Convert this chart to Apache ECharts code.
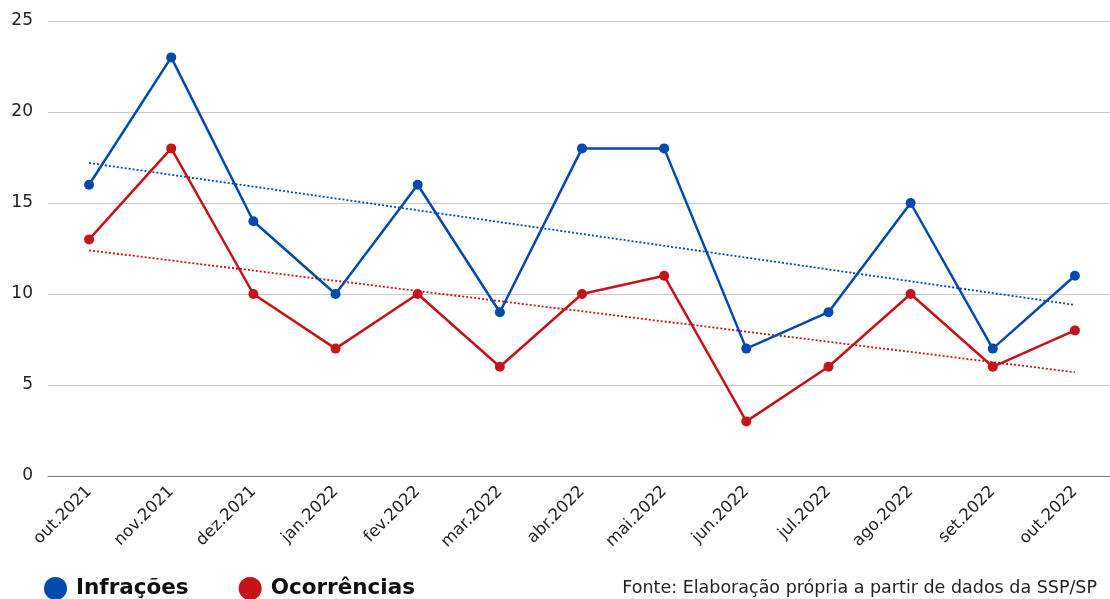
<!DOCTYPE html>
<html>
<head>
<meta charset="utf-8">
<script src="https://cdn.jsdelivr.net/npm/echarts@6/dist/echarts.min.js"></script>
<style>
  html, body { margin: 0; padding: 0; background: #fff; overflow: hidden; }
  #chart { width: 1116px; height: 599px; }
</style>
</head>
<body>
<div id="chart"></div>
<script>
// Monthly counts, Oct 2021 – Oct 2022
const months = ['out.2021', 'nov.2021', 'dez.2021', 'jan.2022', 'fev.2022', 'mar.2022', 'abr.2022',
                'mai.2022', 'jun.2022', 'jul.2022', 'ago.2022', 'set.2022', 'out.2022'];
const infracoes = [16, 23, 14, 10, 16, 9, 18, 18, 7, 9, 15, 7, 11];
const ocorrencias = [13, 18, 10, 7, 10, 6, 10, 11, 3, 6, 10, 6, 8];
// Linear trend lines: values at the first and last month
const trendInfracoes = [17.2, null, null, null, null, null, null, null, null, null, null, null, 9.4];
const trendOcorrencias = [12.4, null, null, null, null, null, null, null, null, null, null, null, 5.7];
const yTicks = [0, 5, 10, 15, 20, 25];
const sourceNote = 'Fonte: Elaboração própria a partir de dados da SSP/SP';

const BLUE = '#0049ad';
const RED = '#c51419';
const FONT = '"DejaVu Sans", Inter, sans-serif';

const chart = echarts.init(document.getElementById('chart'), null, { renderer: 'canvas' });

function lineSeries(name, data, color) {
  return {
    name, type: 'line', data,
    symbol: 'circle', symbolSize: 10,
    lineStyle: { color, width: 2.5 },
    itemStyle: { color },
    z: 3
  };
}
function trendSeries(data, color) {
  return {
    type: 'line', data, connectNulls: true,
    symbol: 'none', silent: true,
    lineStyle: { color, width: 1.8, type: [2, 2] },
    z: 2
  };
}

chart.setOption({
  animation: false,
  textStyle: { fontFamily: FONT },
  grid: { left: 48, top: 21, width: 1068, height: 455, containLabel: false },
  legend: {
    data: ['Infrações', 'Ocorrências'],
    left: 39, bottom: -6,
    icon: 'circle', itemWidth: 23, itemHeight: 23, itemGap: 50,
    textStyle: { fontFamily: FONT, fontSize: 21.5, fontWeight: 'bold', color: '#111', padding: [0, 0, 0, 4] }
  },
  title: {
    text: sourceNote,
    right: 14, bottom: -3,
    textStyle: { fontFamily: FONT, fontSize: 17.5, fontWeight: 'normal', color: '#222' }
  },
  xAxis: {
    type: 'category', data: months, boundaryGap: true,
    axisLine: { lineStyle: { color: '#7a7a7a', width: 1.2 } },
    axisTick: { show: false },
    axisLabel: {
      rotate: 45, interval: 0, fontSize: 16.5, color: '#222', margin: 13,
      fontFamily: FONT
    }
  },
  yAxis: {
    type: 'value', min: 0, max: 25, interval: 5,
    axisLine: { show: false }, axisTick: { show: false },
    splitLine: { lineStyle: { color: '#c8c8c8', width: 1.2 } },
    axisLabel: {
      fontSize: 17, color: '#222', margin: 15, fontFamily: FONT,
      formatter: v => (yTicks.includes(v) ? String(v) : '')
    }
  },
  series: [
    trendSeries(trendInfracoes, BLUE),
    trendSeries(trendOcorrencias, RED),
    lineSeries('Infrações', infracoes, BLUE),
    lineSeries('Ocorrências', ocorrencias, RED)
  ]
});
</script>
</body>
</html>
